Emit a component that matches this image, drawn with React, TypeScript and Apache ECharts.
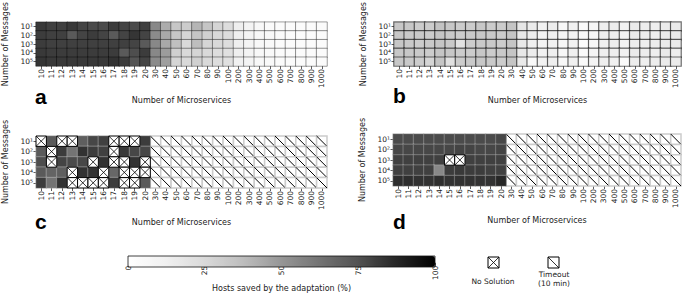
import { useEffect, useRef } from 'react';
import * as echarts from 'echarts';

type Cell = number | 'X' | 'T';

const MICROSERVICES = ['10', '11', '12', '13', '14', '15', '16', '17', '18', '19', '20', '30', '40', '50', '60', '70', '80', '90', '100', '200', '300', '400', '500', '600', '700', '800', '900', '1000'];
const MESSAGES = ['10¹', '10²', '10³', '10⁴', '10⁵'];
const COLORBAR_MIN = 0;
const COLORBAR_MAX = 100;
const COLORBAR_INTERVAL = 25;
const GREYS = ['#ffffff', '#f0f0f0', '#d9d9d9', '#bdbdbd', '#969696', '#737373', '#525252', '#252525', '#000000'];

// Panel a
const A1: Cell[] = [82, 80, 80, 82, 79, 77, 77, 81, 79, 77, 80, 55, 43, 33, 31, 40, 34, 27, 23, 13, 9, 6, 4, 3, 3, 3, 3, 3];
const A2: Cell[] = [81, 80, 80, 72, 79, 81, 79, 72, 79, 83, 79, 54, 44, 33, 27, 34, 29, 25, 23, 13, 9, 6, 5, 3, 3, 3, 3, 3];
const A3: Cell[] = [81, 80, 80, 80, 80, 80, 80, 80, 80, 79, 72, 55, 44, 36, 25, 37, 27, 25, 23, 13, 9, 6, 5, 3, 3, 3, 3, 3];
const A4: Cell[] = [82, 81, 81, 81, 81, 81, 81, 81, 72, 76, 81, 55, 48, 29, 25, 27, 25, 23, 21, 13, 9, 6, 5, 3, 3, 3, 3, 3];
const A5: Cell[] = [83, 82, 82, 82, 82, 82, 82, 84, 81, 74, 79, 54, 47, 27, 25, 29, 25, 23, 21, 12, 9, 6, 5, 3, 3, 3, 3, 3];
// Panel b
const B1: Cell[] = [33, 33, 31, 31, 35, 33, 31, 31, 33, 31, 31, 34, 18, 15, 12, 14, 7, 12, 5, 7, 13, 14, 12, 15, 14, 13, 15, 15];
const B2: Cell[] = [33, 32, 32, 31, 34, 32, 31, 32, 33, 32, 31, 34, 17, 14, 10, 13, 8, 11, 6, 8, 13, 13, 12, 15, 14, 13, 15, 15];
const B3: Cell[] = [33, 32, 31, 32, 34, 32, 20, 31, 32, 32, 31, 34, 17, 13, 10, 12, 7, 11, 3, 7, 12, 14, 11, 14, 13, 14, 15, 15];
const B4: Cell[] = [33, 33, 32, 31, 34, 33, 31, 31, 33, 31, 32, 34, 17, 14, 11, 13, 7, 12, 4, 8, 13, 13, 12, 15, 14, 13, 15, 14];
const B5: Cell[] = [33, 32, 31, 27, 34, 21, 31, 32, 33, 32, 31, 34, 16, 5, 11, 13, 6, 12, 4, 9, 13, 12, 4, 14, 13, 14, 15, 15];
// Panel c
const C1: Cell[] = ['X', 72, 'X', 'X', 70, 78, 80, 'X', 'X', 'X', 81, 'T', 'T', 'T', 'T', 'T', 'T', 'T', 'T', 'T', 'T', 'T', 'T', 'T', 'T', 'T', 'T', 'T'];
const C2: Cell[] = [72, 'X', 81, 62, 84, 81, 80, 'X', 82, 78, 78, 'T', 'T', 'T', 'T', 'T', 'T', 'T', 'T', 'T', 'T', 'T', 'T', 'T', 'T', 'T', 'T', 'T'];
const C3: Cell[] = [76, 'X', 79, 77, 78, 'X', 84, 'X', 'X', 84, 'X', 'T', 'T', 'T', 'T', 'T', 'T', 'T', 'T', 'T', 'T', 'T', 'T', 'T', 'T', 'T', 'T', 'T'];
const C4: Cell[] = [72, 68, 70, 'X', 84, 84, 'X', 67, 'X', 'X', 'X', 'T', 'T', 'T', 'T', 'T', 'T', 'T', 'T', 'T', 'T', 'T', 'T', 'T', 'T', 'T', 'T', 'T'];
const C5: Cell[] = [81, 62, 84, 'X', 'X', 'X', 'X', 81, 'X', 'X', 72, 'T', 'T', 'T', 'T', 'T', 'T', 'T', 'T', 'T', 'T', 'T', 'T', 'T', 'T', 'T', 'T', 'T'];
// Panel d
const D1: Cell[] = [77, 77, 77, 77, 77, 77, 77, 77, 77, 77, 78, 'T', 'T', 'T', 'T', 'T', 'T', 'T', 'T', 'T', 'T', 'T', 'T', 'T', 'T', 'T', 'T', 'T'];
const D2: Cell[] = [78, 78, 78, 78, 78, 78, 79, 79, 78, 78, 79, 'T', 'T', 'T', 'T', 'T', 'T', 'T', 'T', 'T', 'T', 'T', 'T', 'T', 'T', 'T', 'T', 'T'];
const D3: Cell[] = [80, 80, 80, 80, 80, 'X', 'X', 80, 80, 80, 80, 'T', 'T', 'T', 'T', 'T', 'T', 'T', 'T', 'T', 'T', 'T', 'T', 'T', 'T', 'T', 'T', 'T'];
const D4: Cell[] = [80, 80, 80, 80, 55, 81, 82, 81, 81, 80, 80, 'T', 'T', 'T', 'T', 'T', 'T', 'T', 'T', 'T', 'T', 'T', 'T', 'T', 'T', 'T', 'T', 'T'];
const D5: Cell[] = [85, 85, 84, 84, 85, 84, 84, 84, 84, 84, 87, 'T', 'T', 'T', 'T', 'T', 'T', 'T', 'T', 'T', 'T', 'T', 'T', 'T', 'T', 'T', 'T', 'T'];

const PANEL_A = [A1, A2, A3, A4, A5];
const PANEL_B = [B1, B2, B3, B4, B5];
const PANEL_C = [C1, C2, C3, C4, C5];
const PANEL_D = [D1, D2, D3, D4, D5];

const FONT = 'DejaVu Sans';

interface PanelCfg {
  rows: Cell[][];
  grid: { left: number; top: number; width: number; height: number };
  border: string;
  borderWidth: number;
  letter: string;
  letterX: number;
  letterY: number;
}

const PANELS: PanelCfg[] = [
  { rows: PANEL_A, grid: { left: 36, top: 14, width: 291, height: 52 }, border: 'rgba(0,0,0,0.38)', borderWidth: 1, letter: 'a', letterX: 35, letterY: 107 },
  { rows: PANEL_B, grid: { left: 394, top: 14, width: 287, height: 52 }, border: 'rgba(0,0,0,0.55)', borderWidth: 1.2, letter: 'b', letterX: 393, letterY: 106 },
  { rows: PANEL_C, grid: { left: 36, top: 136, width: 291, height: 52 }, border: 'rgba(200,200,200,0.35)', borderWidth: 1.2, letter: 'c', letterX: 35, letterY: 232 },
  { rows: PANEL_D, grid: { left: 393, top: 134, width: 288, height: 52 }, border: 'rgba(200,200,200,0.3)', borderWidth: 1.2, letter: 'd', letterX: 393, letterY: 232 },
];

function cellBox(api: any) {
  const c = api.coord([api.value(0), api.value(1)]);
  const s = api.size([1, 1]);
  return { x: c[0] - s[0] / 2, y: c[1] - s[1] / 2, w: s[0], h: s[1] };
}

function renderNoSolution(_p: any, api: any) {
  const b = cellBox(api);
  return {
    type: 'group',
    children: [
      { type: 'rect', shape: { x: b.x, y: b.y, width: b.w, height: b.h }, style: { fill: '#fff', stroke: '#000', lineWidth: 1 } },
      { type: 'line', shape: { x1: b.x, y1: b.y, x2: b.x + b.w, y2: b.y + b.h }, style: { stroke: '#000', lineWidth: 0.8 } },
      { type: 'line', shape: { x1: b.x + b.w, y1: b.y, x2: b.x, y2: b.y + b.h }, style: { stroke: '#000', lineWidth: 0.8 } },
    ],
  };
}

function renderTimeout(_p: any, api: any) {
  const b = cellBox(api);
  return {
    type: 'group',
    children: [
      { type: 'rect', shape: { x: b.x, y: b.y, width: b.w, height: b.h }, style: { fill: '#fff', stroke: '#cccccc', lineWidth: 1.5 } },
      { type: 'line', shape: { x1: b.x, y1: b.y, x2: b.x + b.w, y2: b.y + b.h }, style: { stroke: '#000', lineWidth: 1 } },
    ],
  };
}

function buildOption() {
  const grids: any[] = [];
  const xAxes: any[] = [];
  const yAxes: any[] = [];
  const series: any[] = [];
  const heatIdx: number[] = [];
  const graphics: any[] = [];

  PANELS.forEach((p, g) => {
    grids.push({ ...p.grid, containLabel: false });
    xAxes.push({
      type: 'category', gridIndex: g, data: MICROSERVICES, position: 'bottom',
      axisLine: { show: false },
      axisTick: { show: true, alignWithLabel: true, interval: 0, length: 3, lineStyle: { color: '#333', width: 0.8 } },
      axisLabel: { rotate: 90, interval: 0, fontSize: 7.5, margin: 3, color: '#222', fontFamily: FONT },
      splitLine: { show: false },
      name: 'Number of Microservices', nameLocation: 'middle', nameGap: 30,
      nameTextStyle: { fontSize: 8, color: '#222', fontFamily: FONT },
    });
    yAxes.push({
      type: 'category', gridIndex: g, data: MESSAGES, inverse: true,
      axisLine: { show: false },
      axisTick: { show: true, alignWithLabel: true, interval: 0, length: 2.5, lineStyle: { color: '#333', width: 0.8 } },
      axisLabel: { interval: 0, fontSize: 7.5, margin: 3, color: '#222', fontFamily: FONT },
      splitLine: { show: false },
      name: 'Number of Messages', nameLocation: 'middle', nameGap: 27,
      nameTextStyle: { fontSize: 8, color: '#222', fontFamily: FONT },
    });
    const heat: any[] = [];
    const xs: any[] = [];
    const ts: any[] = [];
    p.rows.forEach((row, r) => {
      row.forEach((v, c) => {
        if (v === 'X') xs.push([c, r]);
        else if (v === 'T') ts.push([c, r]);
        else heat.push([c, r, v]);
      });
    });
    if (ts.length) {
      series.push({ type: 'custom', xAxisIndex: g, yAxisIndex: g, data: ts, renderItem: renderTimeout, silent: true, z: 1 });
    }
    heatIdx.push(series.length);
    series.push({
      type: 'heatmap', xAxisIndex: g, yAxisIndex: g, data: heat, silent: true, z: 2,
      itemStyle: { borderColor: p.border, borderWidth: p.borderWidth },
      emphasis: { disabled: true },
    });
    if (xs.length) {
      series.push({ type: 'custom', xAxisIndex: g, yAxisIndex: g, data: xs, renderItem: renderNoSolution, silent: true, z: 3 });
    }
    graphics.push({
      type: 'text', x: p.letterX, y: p.letterY,
      style: { text: p.letter, font: 'bold 21px "Liberation Sans"', fill: '#000', textAlign: 'left', textVerticalAlign: 'bottom' },
    });
  });

  // colorbar axis
  const cb = grids.length;
  grids.push({ left: 128, top: 256, width: 307, height: 11 });
  xAxes.push({
    type: 'value', gridIndex: cb, min: COLORBAR_MIN, max: COLORBAR_MAX, interval: COLORBAR_INTERVAL,
    axisLine: { show: false },
    axisTick: { show: true, length: 3, lineStyle: { color: '#222', width: 0.8 } },
    minorTick: { show: true, splitNumber: 8, length: 2, lineStyle: { color: '#222', width: 0.6 } },
    axisLabel: { rotate: 90, fontSize: 7.5, margin: 3, color: '#222', fontFamily: FONT },
    splitLine: { show: false }, minorSplitLine: { show: false },
    name: 'Hosts saved by the adaptation (%)', nameLocation: 'middle', nameGap: 13,
    nameTextStyle: { fontSize: 8, color: '#222', fontFamily: FONT },
  });
  yAxes.push({ type: 'value', gridIndex: cb, show: false, min: 0, max: 1 });

  graphics.push({ type: 'rect', shape: { x: 128, y: 256, width: 307, height: 11 }, style: { fill: 'none', stroke: '#111', lineWidth: 0.8 }, z: 100 });

  // legend symbols
  const nsX = 488, nsY = 257, sz = 11;
  graphics.push({ type: 'rect', shape: { x: nsX, y: nsY, width: sz, height: sz }, style: { fill: '#fff', stroke: '#000', lineWidth: 1 } });
  graphics.push({ type: 'line', shape: { x1: nsX, y1: nsY, x2: nsX + sz, y2: nsY + sz }, style: { stroke: '#000', lineWidth: 0.8 } });
  graphics.push({ type: 'line', shape: { x1: nsX + sz, y1: nsY, x2: nsX, y2: nsY + sz }, style: { stroke: '#000', lineWidth: 0.8 } });
  graphics.push({ type: 'text', x: 493, y: 281, style: { text: 'No Solution', font: `7.5px "${FONT}"`, fill: '#222', textAlign: 'center', textVerticalAlign: 'middle' } });
  const toX = 548, toY = 257;
  graphics.push({ type: 'rect', shape: { x: toX, y: toY, width: sz, height: sz }, style: { fill: '#fff', stroke: '#000', lineWidth: 1 } });
  graphics.push({ type: 'line', shape: { x1: toX, y1: toY, x2: toX + sz, y2: toY + sz }, style: { stroke: '#000', lineWidth: 0.8 } });
  graphics.push({ type: 'text', x: 554, y: 274, style: { text: 'Timeout', font: `7.5px "${FONT}"`, fill: '#222', textAlign: 'center', textVerticalAlign: 'middle' } });
  graphics.push({ type: 'text', x: 554, y: 283, style: { text: '(10 min)', font: `7.5px "${FONT}"`, fill: '#222', textAlign: 'center', textVerticalAlign: 'middle' } });

  return {
    animation: false,
    backgroundColor: '#fff',
    textStyle: { fontFamily: FONT },
    grid: grids,
    xAxis: xAxes,
    yAxis: yAxes,
    visualMap: {
      type: 'continuous', min: COLORBAR_MIN, max: COLORBAR_MAX, dimension: 2,
      seriesIndex: heatIdx, orient: 'horizontal', left: 128, top: 256, padding: 0,
      itemWidth: 11, itemHeight: 307, calculable: false, text: ['', ''], showLabel: false,
      inRange: { color: GREYS }, hoverLink: false,
    },
    series,
    graphic: graphics,
  };
}

export default function App() {
  const ref = useRef<HTMLDivElement>(null);
  useEffect(() => {
    if (!ref.current) return;
    const chart = echarts.init(ref.current, undefined, { renderer: 'svg' });
    chart.setOption(buildOption() as any);
    return () => chart.dispose();
  }, []);
  return <div ref={ref} style={{ position: 'fixed', left: 0, top: 0, width: 685, height: 293 }} />;
}
